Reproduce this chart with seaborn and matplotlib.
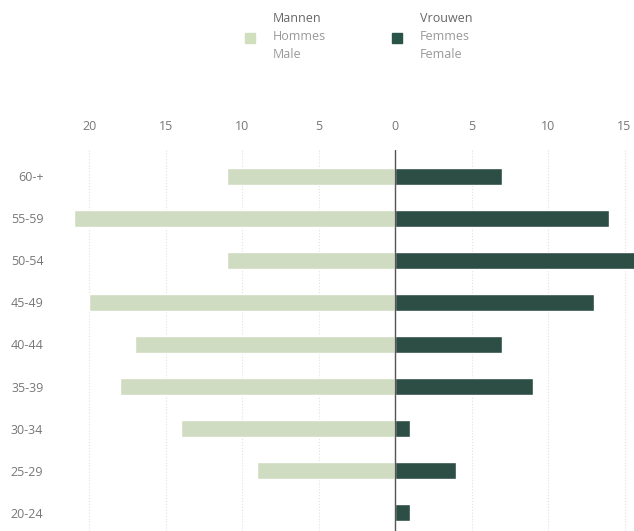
import numpy as np
import pandas as pd
import matplotlib
matplotlib.use("Agg")
import matplotlib.pyplot as plt
import seaborn as sns

# === Datos ===
leeftijd = ["60-+", "55-59", "50-54", "45-49", "40-44", "35-39", "30-34", "25-29", "20-24"]
mannen = [11, 21, 11, 20, 17, 18, 14, 9, 0]
vrouwen = [7, 14, 16, 13, 7, 9, 1, 4, 1]
ticks = [-20, -15, -10, -5, 0, 5, 10, 15]

KLEUR_M = "#d0e0bd"
KLEUR_V = "#275447"
GRIJS = "#777777"

df = pd.DataFrame({
    "leeftijd": leeftijd * 2,
    "waarde": [-v for v in mannen] + vrouwen,
    "geslacht": ["M"] * len(mannen) + ["V"] * len(vrouwen),
})

sns.set_style("white")
plt.rcParams["font.family"] = ["Open Sans", "DejaVu Sans"]

fig = plt.figure(figsize=(6.34, 5.31), dpi=100)
ax = fig.add_axes([60 / 634, 0, 1 - 60 / 634, 381 / 531])

sns.barplot(data=df, y="leeftijd", x="waarde", hue="geslacht", order=leeftijd,
            palette={"M": KLEUR_M, "V": KLEUR_V}, dodge=False, width=0.4,
            orient="h", legend=False, ax=ax)

ax.set_xlim(-21.9, 15.62)
ax.set_ylim(8.43, -0.62)
ax.set_xticks(ticks)
ax.set_xticklabels([str(abs(t)) for t in ticks])
ax.xaxis.tick_top()
ax.tick_params(axis="x", length=0, pad=12, labelsize=9, labelcolor=GRIJS)
ax.tick_params(axis="y", length=0, pad=12, labelsize=9, labelcolor=GRIJS)
ax.set_xlabel(""); ax.set_ylabel("")
for s in ax.spines.values():
    s.set_visible(False)
ax.grid(axis="x", color="#e0e0e0", linestyle=":", linewidth=0.8)
ax.set_axisbelow(True)
ax.axvline(0, color="#555555", linewidth=1)

# Legende
for x0, kleur, namen in [(250, KLEUR_M, ["Mannen", "Hommes", "Male"]),
                         (397, KLEUR_V, ["Vrouwen", "Femmes", "Female"])]:
    fig.patches.append(plt.Rectangle(((x0 - 5) / 634, 1 - 43 / 531), 10 / 634, 10 / 531,
                                     transform=fig.transFigure, color=kleur))
    for i, naam in enumerate(namen):
        fig.text((x0 + 23) / 634, 1 - (18 + 18.5 * i) / 531, naam, fontsize=9,
                 color="#666666" if i == 0 else "#999999", va="center", ha="left")

plt.savefig("out.png", dpi=100)
plt.close()
